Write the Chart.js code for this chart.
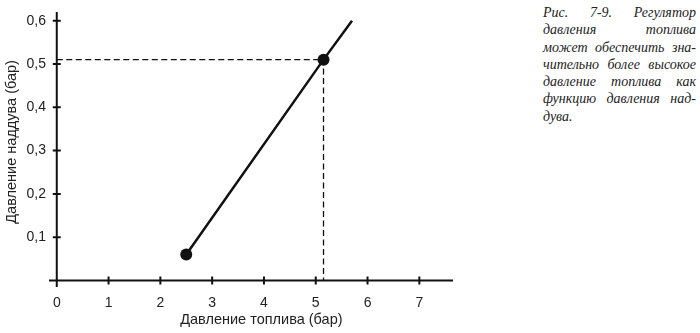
<!DOCTYPE html>
<html>
<head>
<meta charset="utf-8">
<script src="https://cdn.jsdelivr.net/npm/chart.js@4.4.1/dist/chart.umd.min.js"></script>
<style>
  html, body { margin: 0; padding: 0; background: #fff; }
  body { width: 700px; height: 333px; position: relative; overflow: hidden; }
  #wrap { position: absolute; left: 0; top: 0; width: 520px; height: 333px; }
  #caption {
    position: absolute; left: 543px; top: 4px; width: 153px;
    font-family: "Liberation Serif", "DejaVu Serif", serif; font-style: italic;
    font-size: 14px; line-height: 17.3px; color: #222;
  }
  #caption div { text-align: justify; text-align-last: justify; }
  #caption div.last { text-align-last: left; }
</style>
</head>
<body>
<div id="wrap"><canvas id="pressureChart"></canvas></div>
<div id="caption">
  <div>Рис. 7-9. Регулятор</div>
  <div>давления топлива</div>
  <div>может обеспечить зна-</div>
  <div>чительно более высокое</div>
  <div>давление топлива как</div>
  <div>функцию давления над-</div>
  <div class="last">дува.</div>
</div>
<script>
// regulator line: fuel pressure (x) vs boost pressure (y), bar
const fuelPressure = [2.5, 5.15, 5.7];
const boostPressure = [0.06, 0.51, 0.6];
const markerRadius = [6, 6, 0];
// dashed guide to the operating point
const guideX = [0, 5.15, 5.15];
const guideY = [0.51, 0.51, 0];

const xTicks = [0, 1, 2, 3, 4, 5, 6, 7];
const xTickLabels = ['0', '1', '2', '3', '4', '5', '6', '7'];
const yTicks = [0.1, 0.2, 0.3, 0.4, 0.5, 0.6];
const yTickLabels = ['0,1', '0,2', '0,3', '0,4', '0,5', '0,6'];

const xTitle = 'Давление топлива (бар)';
const yTitle = 'Давление наддува (бар)';

const ink = '#111';
const labelFont = { family: '"Liberation Sans", Arial, sans-serif', size: 14 };

// axes crossing at zero, with ticks that cross the axis line
const crossAxes = {
  id: 'crossAxes',
  beforeDatasetsDraw(chart) {
    const { ctx, scales: { x, y } } = chart;
    const x0 = x.getPixelForValue(0), y0 = y.getPixelForValue(0);
    ctx.save();
    ctx.strokeStyle = ink;
    ctx.lineWidth = 2;
    ctx.beginPath();
    ctx.moveTo(x0, y.bottom); ctx.lineTo(x0, y.top);
    ctx.moveTo(x.left, y0); ctx.lineTo(x.right, y0);
    yTicks.forEach(v => {
      const py = y.getPixelForValue(v);
      ctx.moveTo(x0 - 4, py); ctx.lineTo(x0 + 4, py);
    });
    xTicks.forEach(v => {
      if (v === 0) return;
      const px = x.getPixelForValue(v);
      ctx.moveTo(px, y0 - 4); ctx.lineTo(px, y0 + 4);
    });
    ctx.stroke();
    ctx.restore();
  },
  afterDraw(chart) {
    const { ctx, scales: { x, y } } = chart;
    ctx.save();
    ctx.fillStyle = '#222';
    ctx.font = '14.5px "Liberation Sans", Arial, sans-serif';
    ctx.textAlign = 'center';
    ctx.textBaseline = 'middle';
    ctx.fillText(xTitle, x.getPixelForValue(3.95), 320);
    ctx.translate(12, y.getPixelForValue(0.32));
    ctx.rotate(-Math.PI / 2);
    ctx.fillText(yTitle, 0, 0);
    ctx.restore();
  }
};

const ctx = document.getElementById('pressureChart').getContext('2d');
const pressureChart = new Chart(ctx, {
  type: 'scatter',
  data: {
    datasets: [{
      label: 'guide',
      data: guideX.map((v, i) => ({ x: v, y: guideY[i] })),
      showLine: true,
      borderColor: ink,
      borderWidth: 1.3,
      borderDash: [6, 3.5],
      pointRadius: 0
    }, {
      label: 'Регулятор',
      data: fuelPressure.map((v, i) => ({ x: v, y: boostPressure[i] })),
      showLine: true,
      borderColor: ink,
      borderWidth: 2.5,
      pointRadius: markerRadius,
      pointBackgroundColor: ink,
      pointBorderColor: ink,
      pointBorderWidth: 0
    }]
  },
  options: {
    responsive: true,
    maintainAspectRatio: false,
    animation: false,
    layout: { padding: { top: 12, right: 67, left: 0, bottom: 0 } },
    scales: {
      x: {
        type: 'linear',
        min: -0.15,
        max: 7.65,
        afterBuildTicks: s => { s.ticks = xTicks.map(v => ({ value: v })); },
        afterFit: s => { s.height = 46; },
        grid: { display: false, drawTicks: false },
        border: { display: false },
        ticks: {
          padding: 8,
          color: '#222',
          font: labelFont,
          maxRotation: 0,
          autoSkip: false,
          callback: (v, i) => xTickLabels[i]
        }
      },
      y: {
        min: -0.015,
        max: 0.62,
        afterBuildTicks: s => { s.ticks = yTicks.map(v => ({ value: v })); },
        afterFit: s => { s.width = 49; },
        grid: { display: false, drawTicks: false },
        border: { display: false },
        ticks: {
          padding: 3,
          color: '#222',
          font: labelFont,
          autoSkip: false,
          callback: (v, i) => yTickLabels[i]
        }
      }
    },
    plugins: {
      legend: { display: false },
      tooltip: { enabled: false }
    }
  },
  plugins: [crossAxes]
});
</script>
</body>
</html>
